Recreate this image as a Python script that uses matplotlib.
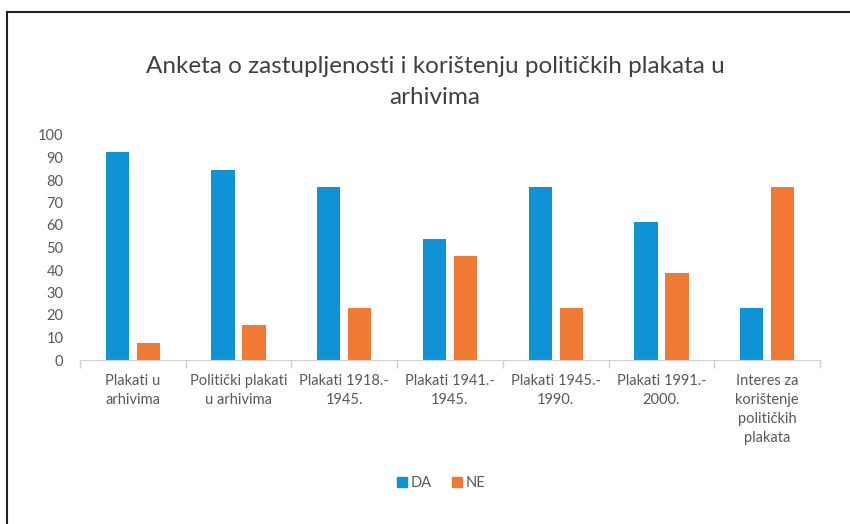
import matplotlib
matplotlib.use("Agg")
import matplotlib.pyplot as plt
from matplotlib.lines import Line2D
import numpy as np

plt.rcParams['font.family'] = ['Lato', 'DejaVu Sans']

categories = ["Plakati u\narhivima", "Politički plakati\nu arhivima", "Plakati 1918.-\n1945.",
              "Plakati 1941.-\n1945.", "Plakati 1945.-\n1990.", "Plakati 1991.-\n2000.",
              "Interes za\nkorištenje\npolitičkih\nplakata"]
da = [92.3, 84.6, 76.9, 53.8, 76.9, 61.5, 23.1]
ne = [7.7, 15.4, 23.1, 46.2, 23.1, 38.5, 76.9]
series_names = ["DA", "NE"]
yticks = list(range(0, 101, 10))

blue = "#0f93d6"
orange = "#f07a34"
text_col = "#595959"

fig = plt.figure(figsize=(8.5, 5.24), dpi=100)
W, H = 850, 524
ax = fig.add_axes([80 / W, 1 - 360 / H, (820 - 80) / W, (360 - 135) / H])

x = np.arange(len(categories))
bw = 0.22
off = 0.147
ax.bar(x - off, da, width=bw, color=blue, label=series_names[0])
ax.bar(x + off, ne, width=bw, color=orange, label=series_names[1])

ax.set_xlim(-0.5, len(categories) - 0.5)
ax.set_ylim(0, 100)
ax.set_yticks(yticks)
ax.tick_params(axis='y', length=0, pad=12, labelsize=10.5, labelcolor=text_col)
ax.set_xticks(x)
ax.set_xticklabels(categories, fontsize=10.5, color=text_col, linespacing=1.45)
ax.tick_params(axis='x', length=0, pad=10)
# category boundary ticks
ax.set_xticks(np.arange(-0.5, len(categories), 1), minor=True)
ax.tick_params(axis='x', which='minor', length=6, color="#d0d0d0", width=1)

for s in ['top', 'right', 'left']:
    ax.spines[s].set_visible(False)
ax.spines['bottom'].set_color("#d0d0d0")

fig.text(435 / W, 1 - 82 / H,
         "Anketa o zastupljenosti i korištenju političkih plakata u\narhivima",
         ha='center', va='center', fontsize=17.5, color="#404040",
         linespacing=1.6)

handles = [Line2D([], [], marker='s', linestyle='none', markersize=7, color=blue),
           Line2D([], [], marker='s', linestyle='none', markersize=7, color=orange)]
fig.legend(handles, series_names, loc='center', bbox_to_anchor=(440 / W, 1 - 483 / H),
           ncol=2, frameon=False, fontsize=10.5, labelcolor=text_col,
           handletextpad=0.1, columnspacing=1.2, handlelength=1.0)

# partial frame (top and left borders visible in reference)
fig.add_artist(Line2D([7 / W, 1], [1 - 12 / H, 1 - 12 / H], color="#222222", lw=1.5))
fig.add_artist(Line2D([7 / W, 7 / W], [0, 1 - 12 / H], color="#222222", lw=1.5))

fig.savefig("out.png", dpi=100, facecolor="white")
